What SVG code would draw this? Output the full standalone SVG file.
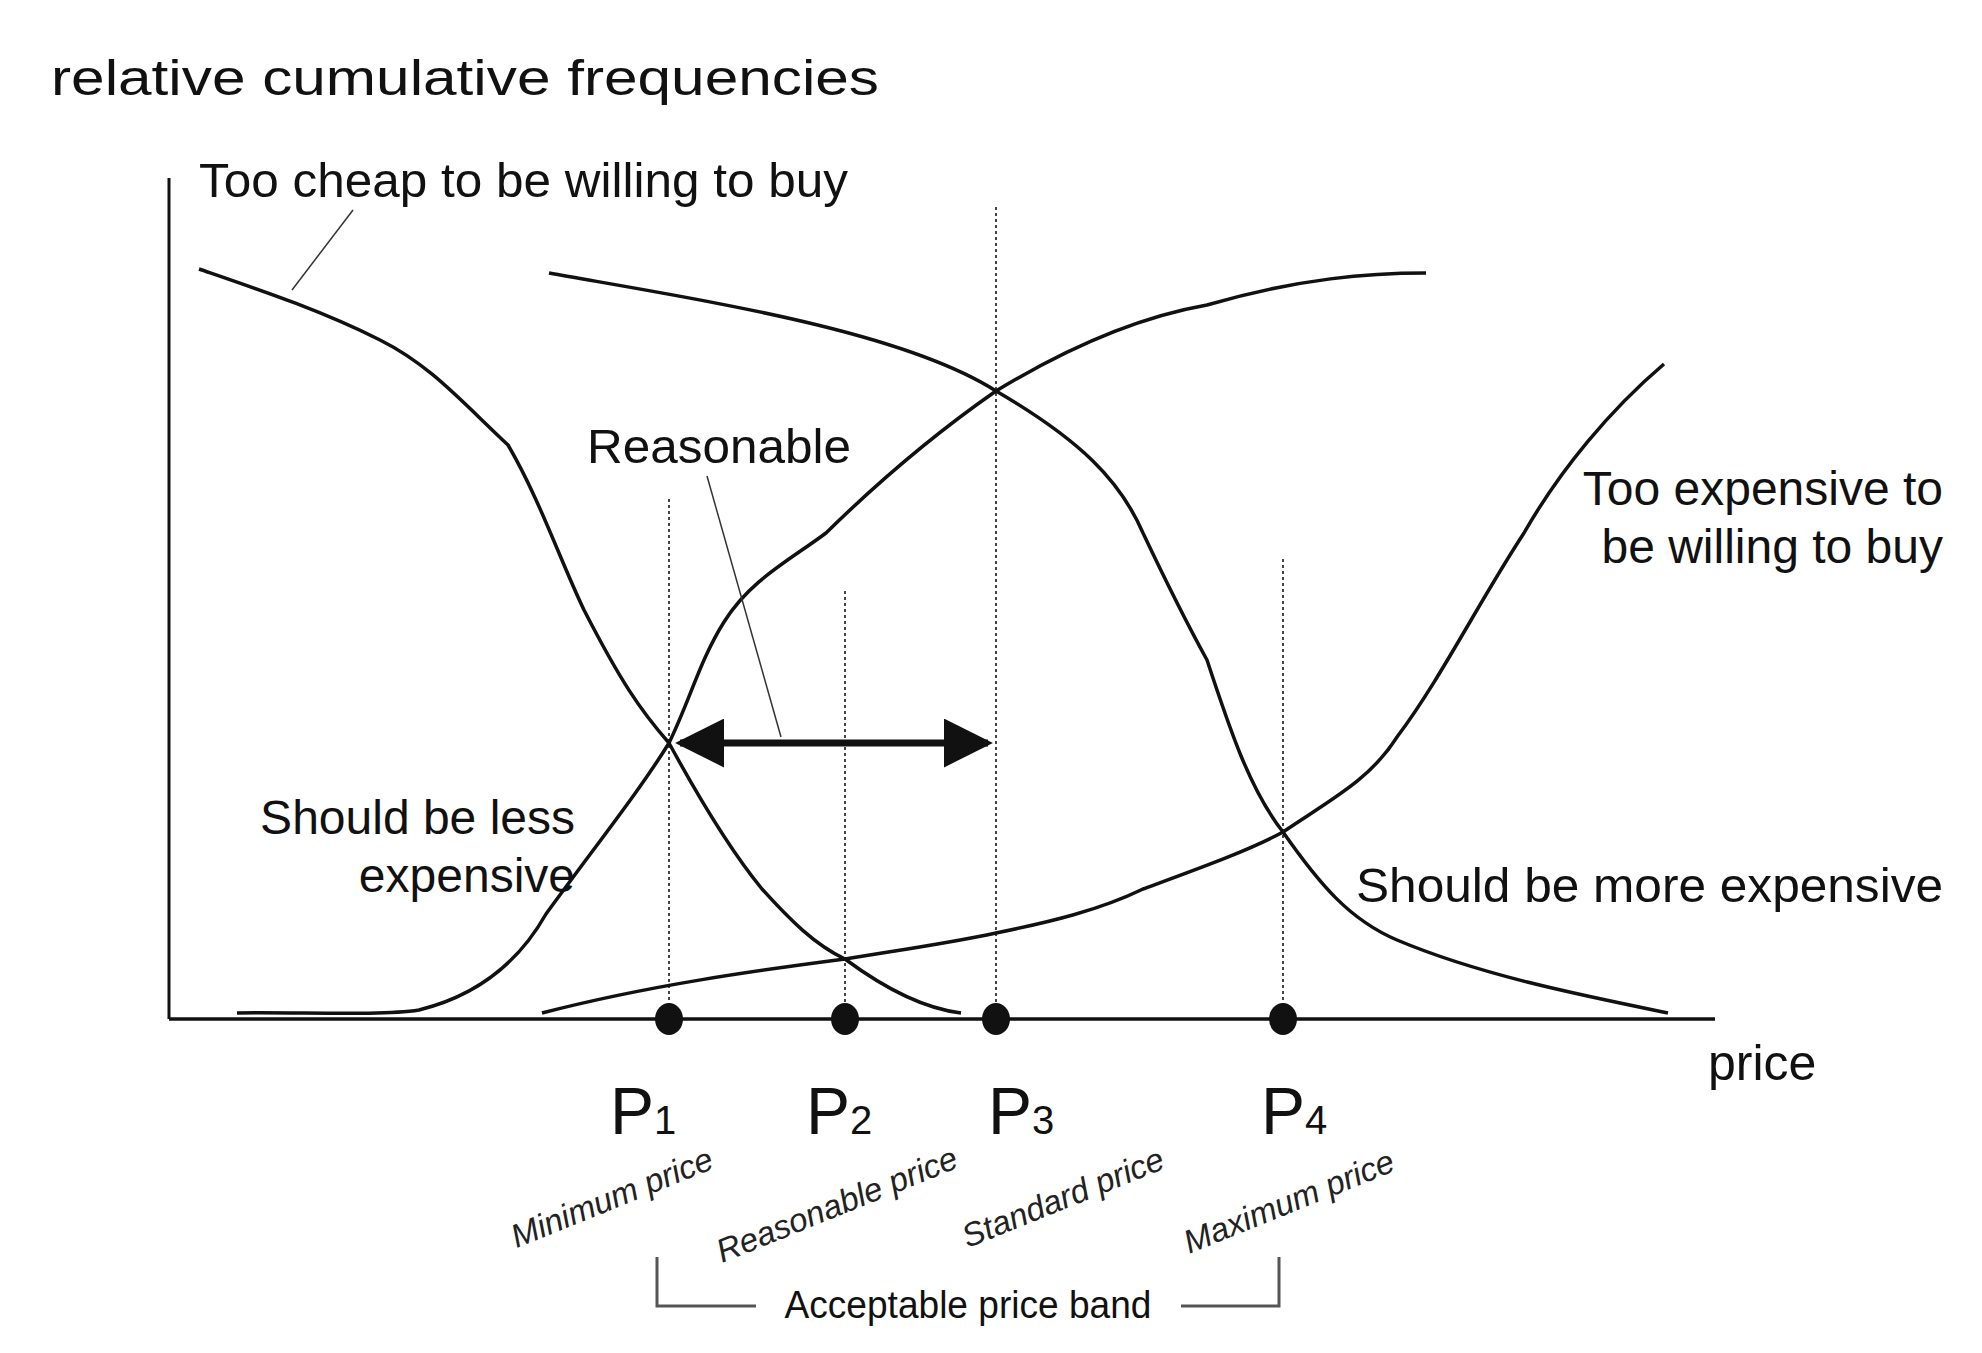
<svg xmlns="http://www.w3.org/2000/svg" width="1982" height="1353" viewBox="0 0 1982 1353">
<style>
text{font-family:"Liberation Sans",Arial,sans-serif;fill:#111}
.c{fill:none;stroke:#111;stroke-width:3.5}
.d{stroke:#444;stroke-width:2;stroke-dasharray:3 3}
.sm{font-size:33px;font-style:italic;fill:#222}
.b{fill:none;stroke:#555;stroke-width:3}
</style>
<defs>
<marker id="ah" viewBox="0 0 10 10" refX="9" refY="5" markerWidth="7" markerHeight="7" orient="auto-start-reverse" markerUnits="strokeWidth"><path d="M0,0 L10,5 L0,10 z" fill="#111"/></marker>
</defs>
<rect width="1982" height="1353" fill="#fff"/>
<g id="axes">
<line x1="169" y1="178" x2="169" y2="1019" stroke="#111" stroke-width="3"/>
<line x1="169" y1="1019" x2="1715" y2="1019" stroke="#111" stroke-width="3.5"/>
<text x="51" y="95" font-size="50" textLength="828" lengthAdjust="spacingAndGlyphs">relative cumulative frequencies</text>
<text x="1708" y="1080" font-size="50">price</text>
</g>
<g id="guides">
<line class="d" x1="669" y1="499" x2="669" y2="1019"/>
<line class="d" x1="845" y1="591" x2="845" y2="1019"/>
<line class="d" x1="996" y1="207" x2="996" y2="1019"/>
<line class="d" x1="1283" y1="559" x2="1283" y2="1019"/>
</g>
<g id="connectors">
<path id="too-cheap" class="c" d="M199,269 C260,290 320,310 380,340 C430,365 460,400 508,445 C540,500 560,560 584,610 C620,680 640,710 669,743 C700,800 730,850 762,889 C790,920 815,945 845,959 C880,985 920,1008 961,1013"/>
<path id="should-more" class="c" d="M549,273 C700,300 900,330 996,391 C1080,440 1120,480 1143,533 C1170,590 1185,620 1207,660 C1230,730 1250,790 1283,832 C1320,885 1350,920 1397,940 C1480,975 1580,995 1668,1013"/>
<path id="should-less" class="c" d="M237,1013 C300,1012 380,1016 419,1010 C480,995 520,960 546,914 C600,840 640,790 669,743 C690,700 700,660 724,622 C750,580 790,560 826,533 C880,480 940,430 996,391 C1080,340 1150,315 1207,305 C1300,278 1370,273 1426,273"/>
<path id="too-expensive" class="c" d="M542,1013 C650,985 760,970 845,959 C900,950 950,943 996,933 C1050,922 1100,910 1143,889 C1200,868 1250,850 1283,832 C1330,800 1370,780 1397,737 C1440,680 1480,600 1524,533 C1560,470 1610,410 1664,364"/>
<line x1="353" y1="210" x2="292" y2="290" stroke="#333" stroke-width="1.5"/>
<line x1="707" y1="476" x2="781" y2="737" stroke="#333" stroke-width="1.5"/>
<line x1="680" y1="743" x2="988" y2="743" stroke="#111" stroke-width="7" marker-start="url(#ah)" marker-end="url(#ah)"/>
</g>
<g id="points" fill="#111">
<ellipse cx="669" cy="1019" rx="14" ry="16"/>
<ellipse cx="845" cy="1019" rx="14" ry="16"/>
<ellipse cx="996" cy="1019" rx="14" ry="16"/>
<ellipse cx="1283" cy="1019" rx="14" ry="16"/>
</g>
<g id="labels">
<text x="199" y="197" font-size="48" textLength="649" lengthAdjust="spacingAndGlyphs">Too cheap to be willing to buy</text>
<text x="587" y="463" font-size="48" textLength="264" lengthAdjust="spacingAndGlyphs">Reasonable</text>
<text x="1943" y="505" font-size="48" text-anchor="end">Too expensive to</text>
<text x="1943" y="563" font-size="48" text-anchor="end">be willing to buy</text>
<text x="575" y="834" font-size="48" text-anchor="end">Should be less</text>
<text x="575" y="892" font-size="48" text-anchor="end">expensive</text>
<text x="1356" y="902" font-size="48" textLength="587" lengthAdjust="spacingAndGlyphs">Should be more expensive</text>
</g>
<g id="p-labels" font-size="66">
<text x="610" y="1134" font-size="66">P<tspan font-size="40">1</tspan></text>
<text x="806" y="1134" font-size="66">P<tspan font-size="40">2</tspan></text>
<text x="988" y="1134" font-size="66">P<tspan font-size="40">3</tspan></text>
<text x="1261" y="1134" font-size="66">P<tspan font-size="40">4</tspan></text>
</g>
<g id="price-names">
<text class="sm" text-anchor="middle" transform="translate(616,1208) rotate(-22)">Minimum price</text>
<text class="sm" text-anchor="middle" transform="translate(841,1215) rotate(-22)">Reasonable price</text>
<text class="sm" text-anchor="middle" transform="translate(1067,1208) rotate(-22)">Standard price</text>
<text class="sm" text-anchor="middle" transform="translate(1293,1212) rotate(-22)">Maximum price</text>
</g>
<g id="band">
<path class="b" d="M657,1257 V1306 H756"/>
<path class="b" d="M1181,1306 H1279 V1257"/>
<text x="968" y="1318" font-size="38" text-anchor="middle" fill="#222" textLength="367" lengthAdjust="spacingAndGlyphs">Acceptable price band</text>
</g>
</svg>
